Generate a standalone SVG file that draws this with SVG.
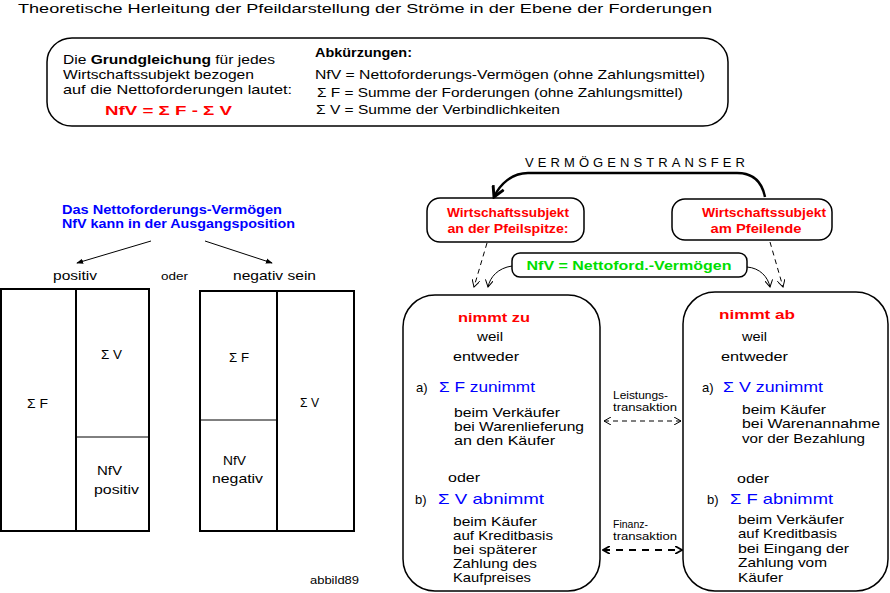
<svg xmlns="http://www.w3.org/2000/svg" width="890" height="593" viewBox="0 0 890 593">
<defs>
<style>
text{font-family:"Liberation Sans",Arial,sans-serif;font-size:13px;fill:#000}
.b{font-weight:bold}
.red{fill:#ff0000;font-weight:bold}
.blue{fill:#0000ff}
.bb{fill:#0000ff;font-weight:bold}
.grn{fill:#00dd00;font-weight:bold}
.sm{font-size:11px}
.mid{font-size:15px}
.box{fill:#fff;stroke:#000;stroke-width:1.5}
.thick{fill:none;stroke:#000;stroke-width:2}
.thin{fill:none;stroke:#000;stroke-width:1}
.dash{fill:none;stroke:#000;stroke-width:1;stroke-dasharray:5,4}
</style>
<marker id="oa" viewBox="0 0 8 8" refX="7" refY="4" markerWidth="8" markerHeight="8" markerUnits="userSpaceOnUse" orient="auto-start-reverse">
<path d="M0,0 L7,4 L0,8" fill="none" stroke="#000" stroke-width="1"/>
</marker>
<marker id="fa" viewBox="0 0 8 8" refX="7" refY="4" markerWidth="7" markerHeight="7" markerUnits="userSpaceOnUse" orient="auto">
<path d="M0,1 L8,4 L0,7 z" fill="#000"/>
</marker>
<marker id="ba" viewBox="0 0 12 12" refX="10" refY="6" markerWidth="14" markerHeight="14" markerUnits="userSpaceOnUse" orient="auto">
<path d="M1,1 L10,6 L1,11" fill="none" stroke="#000" stroke-width="2.5"/>
</marker>
<marker id="fo" viewBox="0 0 8 8" refX="7" refY="4" markerWidth="8" markerHeight="8" markerUnits="userSpaceOnUse" orient="auto-start-reverse">
<path d="M0,0 L7,4 L0,8" fill="none" stroke="#000" stroke-width="1.8"/>
</marker>
</defs>
<rect width="890" height="593" fill="#fff"/>

<text x="18" y="13" font-size="15" textLength="694" lengthAdjust="spacingAndGlyphs">Theoretische Herleitung der Pfeildarstellung der Ströme  in der Ebene der Forderungen</text>

<g id="grundgleichung">
<rect x="47" y="38" width="681" height="88" rx="25" ry="24" class="box" stroke-width="2"/>
<text x="63" y="64" font-size="14" textLength="212" lengthAdjust="spacingAndGlyphs">Die <tspan class="b">Grundgleichung</tspan> für jedes</text>
<text x="63" y="79" font-size="14" textLength="191" lengthAdjust="spacingAndGlyphs">Wirtschaftssubjekt bezogen</text>
<text x="63" y="94" font-size="14" textLength="229" lengthAdjust="spacingAndGlyphs">auf die Nettoforderungen lautet:</text>
<text x="105" y="115" class="red" font-size="18" textLength="127" lengthAdjust="spacingAndGlyphs">NfV = Σ F - Σ V</text>
<text x="315" y="57" class="b" textLength="97" lengthAdjust="spacingAndGlyphs">Abkürzungen:</text>
<text x="315" y="79" font-size="14" textLength="390" lengthAdjust="spacingAndGlyphs">NfV = Nettoforderungs-Vermögen (ohne Zahlungsmittel)</text>
<text x="317" y="97" font-size="14" textLength="366" lengthAdjust="spacingAndGlyphs">Σ F = Summe der Forderungen (ohne Zahlungsmittel)</text>
<text x="316" y="114" font-size="14" textLength="244" lengthAdjust="spacingAndGlyphs">Σ V = Summe der Verbindlichkeiten</text>
</g>

<g id="ausgangsposition">
<text x="62" y="214" class="bb" font-size="11.5" textLength="220" lengthAdjust="spacingAndGlyphs">Das Nettoforderungs-Vermögen</text>
<text x="62" y="228" class="bb" font-size="11.5" textLength="233" lengthAdjust="spacingAndGlyphs">NfV kann in der Ausgangsposition</text>
<text x="53" y="280" font-size="14" textLength="44" lengthAdjust="spacingAndGlyphs">positiv</text>
<text x="161" y="280" class="sm" textLength="27" lengthAdjust="spacingAndGlyphs">oder</text>
<text x="233" y="280" font-size="14" textLength="83" lengthAdjust="spacingAndGlyphs">negativ sein</text>
</g>

<g id="bilanz-positiv">
<rect x="1" y="289" width="148" height="242" class="thick"/>
<line x1="76" y1="289" x2="76" y2="531" class="thick"/>
<line x1="76" y1="437" x2="149" y2="437" class="thin"/>
<text x="27" y="408" textLength="21" lengthAdjust="spacingAndGlyphs">Σ F</text>
<text x="101" y="359" textLength="21" lengthAdjust="spacingAndGlyphs">Σ V</text>
<text x="97" y="475" textLength="25" lengthAdjust="spacingAndGlyphs">NfV</text>
<text x="94" y="494" textLength="45" lengthAdjust="spacingAndGlyphs">positiv</text>
</g>

<g id="bilanz-negativ">
<rect x="200" y="291" width="154" height="240" class="thick"/>
<line x1="277" y1="291" x2="277" y2="531" class="thick"/>
<line x1="200" y1="420" x2="277" y2="420" class="thin"/>
<text x="229" y="362" textLength="20" lengthAdjust="spacingAndGlyphs">Σ F</text>
<text x="300" y="407" textLength="19" lengthAdjust="spacingAndGlyphs">Σ V</text>
<text x="223" y="465" textLength="23" lengthAdjust="spacingAndGlyphs">NfV</text>
<text x="212" y="483" textLength="51" lengthAdjust="spacingAndGlyphs">negativ</text>
</g>

<text x="310" y="584" class="sm" textLength="49" lengthAdjust="spacingAndGlyphs">abbild89</text>

<g id="pfeilspitze">
<rect x="427" y="198" width="157" height="44" rx="13" class="box"/>
<text x="508" y="217" class="red" font-size="13" text-anchor="middle" textLength="122" lengthAdjust="spacingAndGlyphs">Wirtschaftssubjekt</text>
<text x="508" y="233" class="red" font-size="13" text-anchor="middle" textLength="121" lengthAdjust="spacingAndGlyphs">an der Pfeilspitze:</text>
</g>

<g id="pfeilende">
<rect x="672" y="199" width="160" height="41" rx="13" class="box"/>
<text x="764" y="217" class="red" font-size="13" text-anchor="middle" textLength="124" lengthAdjust="spacingAndGlyphs">Wirtschaftssubjekt</text>
<text x="756" y="233" class="red" font-size="13" text-anchor="middle" textLength="91" lengthAdjust="spacingAndGlyphs">am Pfeilende</text>
</g>

<g id="nfv-label">
<rect x="512" y="253" width="235" height="24" rx="8" class="box"/>
<text x="629" y="270" class="grn" font-size="14" text-anchor="middle" textLength="205" lengthAdjust="spacingAndGlyphs">NfV = Nettoford.-Vermögen</text>
</g>

<g id="nimmt-zu">
<rect x="403" y="295" width="197" height="296" rx="32" class="box"/>
<text x="458" y="322" class="red" font-size="15" textLength="72" lengthAdjust="spacingAndGlyphs">nimmt zu</text>
<text x="477" y="341" font-size="14" textLength="26" lengthAdjust="spacingAndGlyphs">weil</text>
<text x="453" y="361" font-size="14" textLength="66" lengthAdjust="spacingAndGlyphs">entweder</text>
<text x="416" y="392" font-size="14">a)</text>
<text x="439" y="392" class="blue mid" textLength="96" lengthAdjust="spacingAndGlyphs">Σ F zunimmt</text>
<text x="454" y="417" textLength="106" lengthAdjust="spacingAndGlyphs">beim Verkäufer</text>
<text x="454" y="431" textLength="130" lengthAdjust="spacingAndGlyphs">bei Warenlieferung</text>
<text x="454" y="445" textLength="101" lengthAdjust="spacingAndGlyphs">an den Käufer</text>
<text x="448" y="482" font-size="14" textLength="32" lengthAdjust="spacingAndGlyphs">oder</text>
<text x="415" y="504" font-size="14">b)</text>
<text x="438" y="504" class="blue mid" textLength="106" lengthAdjust="spacingAndGlyphs">Σ V abnimmt</text>
<text x="453" y="526" textLength="84" lengthAdjust="spacingAndGlyphs">beim Käufer</text>
<text x="453" y="540" textLength="100" lengthAdjust="spacingAndGlyphs">auf Kreditbasis</text>
<text x="453" y="554" textLength="84" lengthAdjust="spacingAndGlyphs">bei späterer</text>
<text x="453" y="568" textLength="84" lengthAdjust="spacingAndGlyphs">Zahlung des</text>
<text x="453" y="582" textLength="78" lengthAdjust="spacingAndGlyphs">Kaufpreises</text>
</g>

<g id="nimmt-ab">
<rect x="683" y="292" width="205" height="299" rx="32" class="box"/>
<text x="719" y="319" class="red" font-size="15" textLength="76" lengthAdjust="spacingAndGlyphs">nimmt ab</text>
<text x="742" y="341" font-size="14" textLength="25" lengthAdjust="spacingAndGlyphs">weil</text>
<text x="721" y="361" font-size="14" textLength="67" lengthAdjust="spacingAndGlyphs">entweder</text>
<text x="702" y="392" font-size="14">a)</text>
<text x="723" y="392" class="blue mid" textLength="100" lengthAdjust="spacingAndGlyphs">Σ V zunimmt</text>
<text x="742" y="414" textLength="84" lengthAdjust="spacingAndGlyphs">beim Käufer</text>
<text x="742" y="428" textLength="138" lengthAdjust="spacingAndGlyphs">bei Warenannahme</text>
<text x="742" y="443" textLength="123" lengthAdjust="spacingAndGlyphs">vor der Bezahlung</text>
<text x="737" y="483" font-size="14" textLength="32" lengthAdjust="spacingAndGlyphs">oder</text>
<text x="707" y="504" font-size="14">b)</text>
<text x="730" y="504" class="blue mid" textLength="103" lengthAdjust="spacingAndGlyphs">Σ F abnimmt</text>
<text x="738" y="524" textLength="106" lengthAdjust="spacingAndGlyphs">beim Verkäufer</text>
<text x="738" y="538" textLength="99" lengthAdjust="spacingAndGlyphs">auf Kreditbasis</text>
<text x="738" y="553" textLength="111" lengthAdjust="spacingAndGlyphs">bei Eingang der</text>
<text x="738" y="567" textLength="89" lengthAdjust="spacingAndGlyphs">Zahlung vom</text>
<text x="738" y="582" textLength="45" lengthAdjust="spacingAndGlyphs">Käufer</text>
</g>

<g id="transaktionen">
<text x="613" y="399" class="sm" textLength="55" lengthAdjust="spacingAndGlyphs">Leistungs-</text>
<text x="613" y="411" class="sm" textLength="64" lengthAdjust="spacingAndGlyphs">transaktion</text>
<text x="613" y="528" class="sm" textLength="35" lengthAdjust="spacingAndGlyphs">Finanz-</text>
<text x="613" y="540" class="sm" textLength="64" lengthAdjust="spacingAndGlyphs">transaktion</text>
<text x="635" y="167" font-size="13" text-anchor="middle" textLength="220" lengthAdjust="spacing">VERMÖGENSTRANSFER</text>
</g>

<g id="connectors">
<line x1="151" y1="241" x2="77" y2="263" class="thin" marker-end="url(#fa)"/>
<line x1="205" y1="241" x2="272" y2="263" class="thin" marker-end="url(#fa)"/>
<path d="M765,197 C762,182 754,173 737,173 L528,173 C512,173 500,184 494,197" fill="none" stroke="#000" stroke-width="2.5" marker-end="url(#ba)"/>
<line x1="487" y1="243" x2="474" y2="287" class="dash" marker-end="url(#oa)"/>
<path d="M512,266 C498,268 490,277 488,287" class="thin" marker-end="url(#oa)"/>
<line x1="770" y1="242" x2="783" y2="287" class="dash" marker-end="url(#oa)"/>
<path d="M747,267 C760,268 768,277 770,287" class="thin" marker-end="url(#oa)"/>
<line x1="604" y1="421" x2="681" y2="421" class="dash" stroke-dasharray="6,6" marker-start="url(#oa)" marker-end="url(#oa)"/>
<line x1="603" y1="550" x2="682" y2="550" fill="none" stroke="#000" stroke-width="2" stroke-dasharray="7,6" marker-start="url(#fo)" marker-end="url(#fo)"/>
</g>
</svg>
